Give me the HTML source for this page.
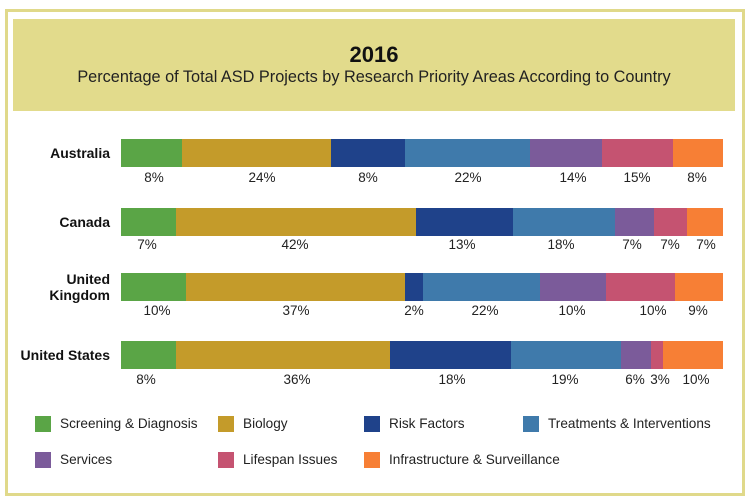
<!DOCTYPE html>
<html><head><style>
body{margin:0;width:750px;height:502px;background:#fff;position:relative;font-family:"Liberation Sans",sans-serif;overflow:hidden}
.a{position:absolute}
.frame{left:5px;top:9px;width:734px;height:481px;border:3px solid #e0d98a}
.ban{left:13px;top:19px;width:722px;height:92px;background:#e2db8c}
.t1{left:13px;width:722px;top:42px;text-align:center;font-size:22px;font-weight:bold;color:#111}
.t2{left:13px;width:722px;top:68px;text-align:center;font-size:16.3px;color:#222}
.c{font-size:14px;font-weight:bold;color:#111;text-align:right;width:110px;left:0}
.l{font-size:13.5px;color:#222;transform:translateX(-50%)}
.sw{width:16px;height:16px}
.lt{font-size:13.6px;color:#222}
</style></head><body>
<div class="a frame"></div>
<div class="a ban"></div>
<div class="a t1">2016</div>
<div class="a t2">Percentage of Total ASD Projects by Research Priority Areas According to Country</div>
<div id="c"></div>
<script>
var col=["#5aa546","#c49b2a","#1f428a","#3f7aab","#7b5b9a","#c55371","#f77f35"];
var rows=[
["Australia",139,178,[121,182,331,405,530,602,673,723],[[154,"8%"],[262,"24%"],[368,"8%"],[468,"22%"],[573,"14%"],[637,"15%"],[697,"8%"]]],
["Canada",208,245,[121,176,416,513,615,654,687,723],[[147,"7%"],[295,"42%"],[462,"13%"],[561,"18%"],[632,"7%"],[670,"7%"],[706,"7%"]]],
["United<br>Kingdom",273,311,[121,186,405,423,540,606,675,723],[[157,"10%"],[296,"37%"],[414,"2%"],[485,"22%"],[572,"10%"],[653,"10%"],[698,"9%"]]],
["United States",341,380,[121,176,390,511,621,651,663,723],[[146,"8%"],[297,"36%"],[452,"18%"],[565,"19%"],[635,"6%"],[660,"3%"],[696,"10%"]]]];
var h="";
rows.forEach(function(r){
 var two=r[0].indexOf("<br>")>0;
 h+='<div class="a c" style="top:'+(two?r[1]-2:r[1]+6)+'px;line-height:16px">'+r[0]+'</div>';
 for(var i=0;i<7;i++)h+='<div class="a" style="left:'+r[3][i]+'px;width:'+(r[3][i+1]-r[3][i])+'px;top:'+r[1]+'px;height:28px;background:'+col[i]+'"></div>';
 r[4].forEach(function(p){h+='<div class="a l" style="left:'+p[0]+'px;top:'+(r[2]-8)+'px">'+p[1]+'</div>'});
});
var lg=[[35,416,"Screening & Diagnosis"],[218,416,"Biology"],[364,416,"Risk Factors"],[523,416,"Treatments & Interventions"],[35,452,"Services"],[218,452,"Lifespan Issues"],[364,452,"Infrastructure & Surveillance"]];
lg.forEach(function(g,i){h+='<div class="a sw" style="left:'+g[0]+'px;top:'+g[1]+'px;background:'+col[i]+'"></div><div class="a lt" style="left:'+(g[0]+25)+'px;top:'+g[1]+'px">'+g[2].replace("&","&amp;")+'</div>'});
document.getElementById("c").innerHTML=h;
</script>
</body></html>
